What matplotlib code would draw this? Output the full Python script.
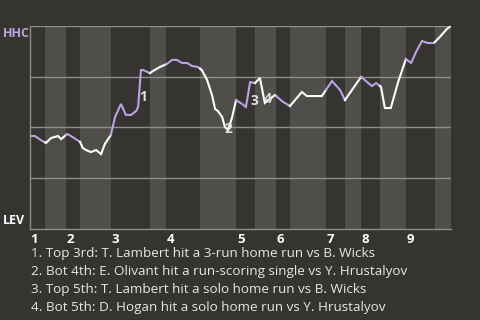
import numpy as np
import matplotlib
matplotlib.use('Agg')
import matplotlib.pyplot as plt

# half-inning boundaries (plate appearance scale), top halves start at even indexes
half_innings = [0, 4.3, 10.3, 14.3, 23.1, 34.3, 38.9, 48.6, 58.9, 64.3, 70.3,
                74.3, 84.6, 90.0, 94.6, 100.0, 107.4, 115.7, 120.3]
inning_labels = ['1', '2', '3', '4', '5', '6', '7', '8', '9']

# win probability for HHC (0 = LEV wins, 100 = HHC wins)
play_x = [0.3, 1.4, 3.1, 4.6, 6.0, 8.0, 8.9, 10.6, 11.7, 14.3, 15.1, 16.0, 17.4,
          18.9, 20.3, 21.4, 23.1, 24.3, 26.0, 27.4, 28.9, 30.3, 30.9, 31.7, 32.3,
          34.3, 35.1, 37.1, 39.1, 40.6, 42.0, 43.4, 44.9, 46.3, 48.0, 49.1, 50.6,
          52.0, 52.9, 53.7, 54.9, 55.7, 56.6, 57.7, 58.9, 60.6, 61.7, 62.9, 64.3,
          65.7, 67.1, 70.0, 72.3, 74.3, 77.7, 79.1, 83.4, 86.3, 88.6, 90.0, 92.0,
          94.6, 97.7, 98.9, 100.3, 101.4, 103.1, 105.1, 107.4, 108.9, 110.3, 112.0,
          113.7, 115.4, 117.1, 119.1, 120.3]
win_prob = [45.8, 45.8, 43.8, 42.4, 44.8, 45.8, 44.3, 46.8, 45.8, 42.9, 39.9, 38.9,
            37.9, 38.9, 36.9, 41.9, 46.3, 55.2, 61.6, 56.2, 56.2, 58.1, 60.1, 78.3,
            78.3, 76.8, 77.8, 79.8, 81.3, 83.3, 83.3, 81.8, 81.8, 80.3, 79.8, 78.3,
            73.4, 66.0, 59.1, 58.1, 55.2, 50.2, 48.8, 54.7, 63.5, 61.6, 60.1, 72.4,
            71.9, 74.4, 62.1, 66.0, 62.6, 60.6, 67.5, 65.5, 65.5, 72.9, 68.5, 63.5,
            68.5, 74.9, 70.4, 71.9, 70.0, 59.6, 59.6, 71.9, 83.7, 81.8, 87.2, 92.6,
            91.6, 91.6, 94.6, 98.5, 100.0]

# key plays
key_labels = ['1', '2', '3', '4']
key_x = [32.3, 56.6, 64.0, 68.0]
key_y = [65.0, 49.3, 63.1, 64.0]
key_text = [
    '1. Top 3rd: T. Lambert hit a 3-run home run vs B. Wicks',
    '2. Bot 4th: E. Olivant hit a run-scoring single vs Y. Hrustalyov',
    '3. Top 5th: T. Lambert hit a solo home run vs B. Wicks',
    '4. Bot 5th: D. Hogan hit a solo home run vs Y. Hrustalyov',
]

bg = '#363430'
band = '#4f4e4b'
grid = '#8e8d8a'
purple = '#b9a4e0'
white = '#ffffff'

plt.rcParams['font.family'] = ['Open Sans', 'DejaVu Sans']

fig = plt.figure(figsize=(4.8, 3.2), dpi=100, facecolor=bg)
ax = fig.add_axes([30 / 480, 1 - 229 / 320, 421 / 480, 203 / 320])
ax.set_facecolor(bg)

# shade bottom halves
for i in range(1, len(half_innings) - 1, 2):
    ax.axvspan(half_innings[i], half_innings[i + 1], color=band, lw=0, zorder=0)

for y in [25, 50, 75, 100]:
    ax.axhline(y, color=grid, lw=1, zorder=1)

# line colored by half inning
px = np.array(play_x)
py = np.array(win_prob)
for i in range(len(half_innings) - 1):
    a, b = half_innings[i], half_innings[i + 1]
    inside = (px > a) & (px < b)
    xs = np.concatenate([[a], px[inside], [b]])
    ys = np.interp(xs, px, py)
    ax.plot(xs, ys, color=purple if i % 2 == 0 else white, lw=1.5,
            solid_joinstyle='miter', zorder=3)

for lab, x, y in zip(key_labels, key_x, key_y):
    ax.text(x, y, lab, color='#dddddd', fontsize=10, fontweight='bold',
            ha='center', va='center', zorder=4)

ax.set_xlim(0, half_innings[-1])
ax.set_ylim(0, 100)
ax.set_xticks([])
ax.set_yticks([])
for s in ['top', 'right']:
    ax.spines[s].set_visible(False)
for s in ['left', 'bottom']:
    ax.spines[s].set_color(grid)
    ax.spines[s].set_linewidth(1)

for k, lab in enumerate(inning_labels):
    ax.text(half_innings[2 * k] + 0.2, -2.0, lab, color=white, fontsize=9.5,
            fontweight='bold', ha='left', va='top', clip_on=False)

fig.text(3 / 480, 1 - 27 / 320, 'HHC', color=purple, fontsize=9,
         fontweight='bold', ha='left', va='top')
fig.text(3 / 480, 1 - 227 / 320, 'LEV', color=white, fontsize=9,
         fontweight='bold', ha='left', va='bottom')

for k, t in enumerate(key_text):
    fig.text(31 / 480, 1 - (254 + 17.7 * k) / 320, t, color='#e6e6e6',
             fontsize=9.7, ha='left', va='center')

fig.savefig('out.png', dpi=100, facecolor=bg)
